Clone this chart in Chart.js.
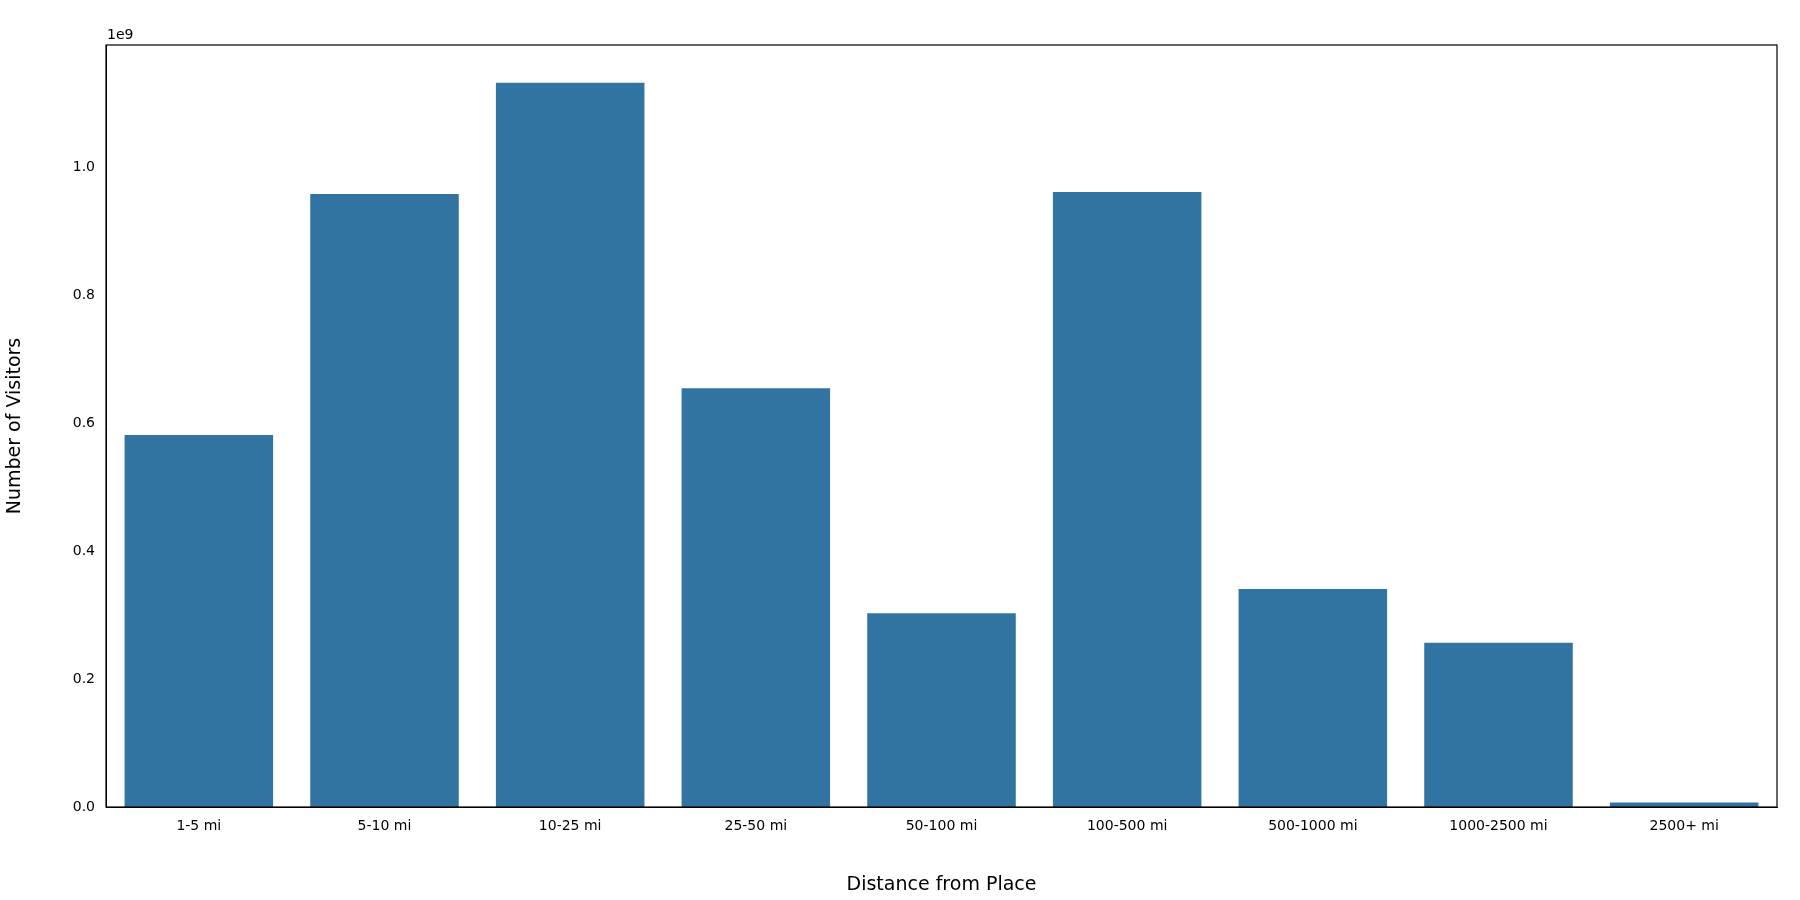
<!DOCTYPE html>
<html><head><script src="https://cdn.jsdelivr.net/npm/chart.js@4"></script>
<style>body{margin:0;background:#fff}</style></head>
<body><canvas id="c" width="1800" height="900"></canvas>
<script>
const categories=["1-5 mi","5-10 mi","10-25 mi","25-50 mi","50-100 mi","100-500 mi","500-1000 mi","1000-2500 mi","2500+ mi"];
const visitors=[0.582e9,0.959e9,1.133e9,0.655e9,0.303e9,0.962e9,0.341e9,0.257e9,0.007e9];
const yTicks=[0,0.2e9,0.4e9,0.6e9,0.8e9,1.0e9];
const font="'DejaVu Sans', sans-serif";
const frame={id:'frame',afterDraw(ch){const a=ch.chartArea,x=ch.ctx;x.save();x.strokeStyle='#000';x.lineWidth=1.2;x.strokeRect(a.left,a.top,a.right-a.left,a.bottom-a.top);x.fillStyle='#000';x.font="14px "+font;x.textAlign='left';x.textBaseline='bottom';x.fillText('1e9',a.left+1,a.top-3);x.restore();}};
new Chart(document.getElementById('c'),{type:'bar',
data:{labels:categories,datasets:[{data:visitors,backgroundColor:'#3274a1',barPercentage:0.8,categoryPercentage:1}]},
options:{responsive:false,animation:false,layout:{padding:{top:45,right:23,left:0,bottom:0}},
plugins:{legend:{display:false},tooltip:{enabled:false}},
scales:{
x:{grid:{display:false,drawTicks:true},border:{color:'#000'},ticks:{color:'#000',font:{size:14,family:font}},
 title:{display:true,text:'Distance from Place',color:'#000',font:{size:19,family:font}},afterFit(s){s.height=93;}},
y:{min:0,max:1.192e9,grid:{display:false},border:{color:'#000'},afterBuildTicks(s){s.ticks=yTicks.map(v=>({value:v}));},
 ticks:{color:'#000',font:{size:14,family:font},callback:v=>(v/1e9).toFixed(1)},
 title:{display:true,text:'Number of Visitors',color:'#000',font:{size:19,family:font}},afterFit(s){s.width=106;}}}},
plugins:[frame]});
</script></body></html>
